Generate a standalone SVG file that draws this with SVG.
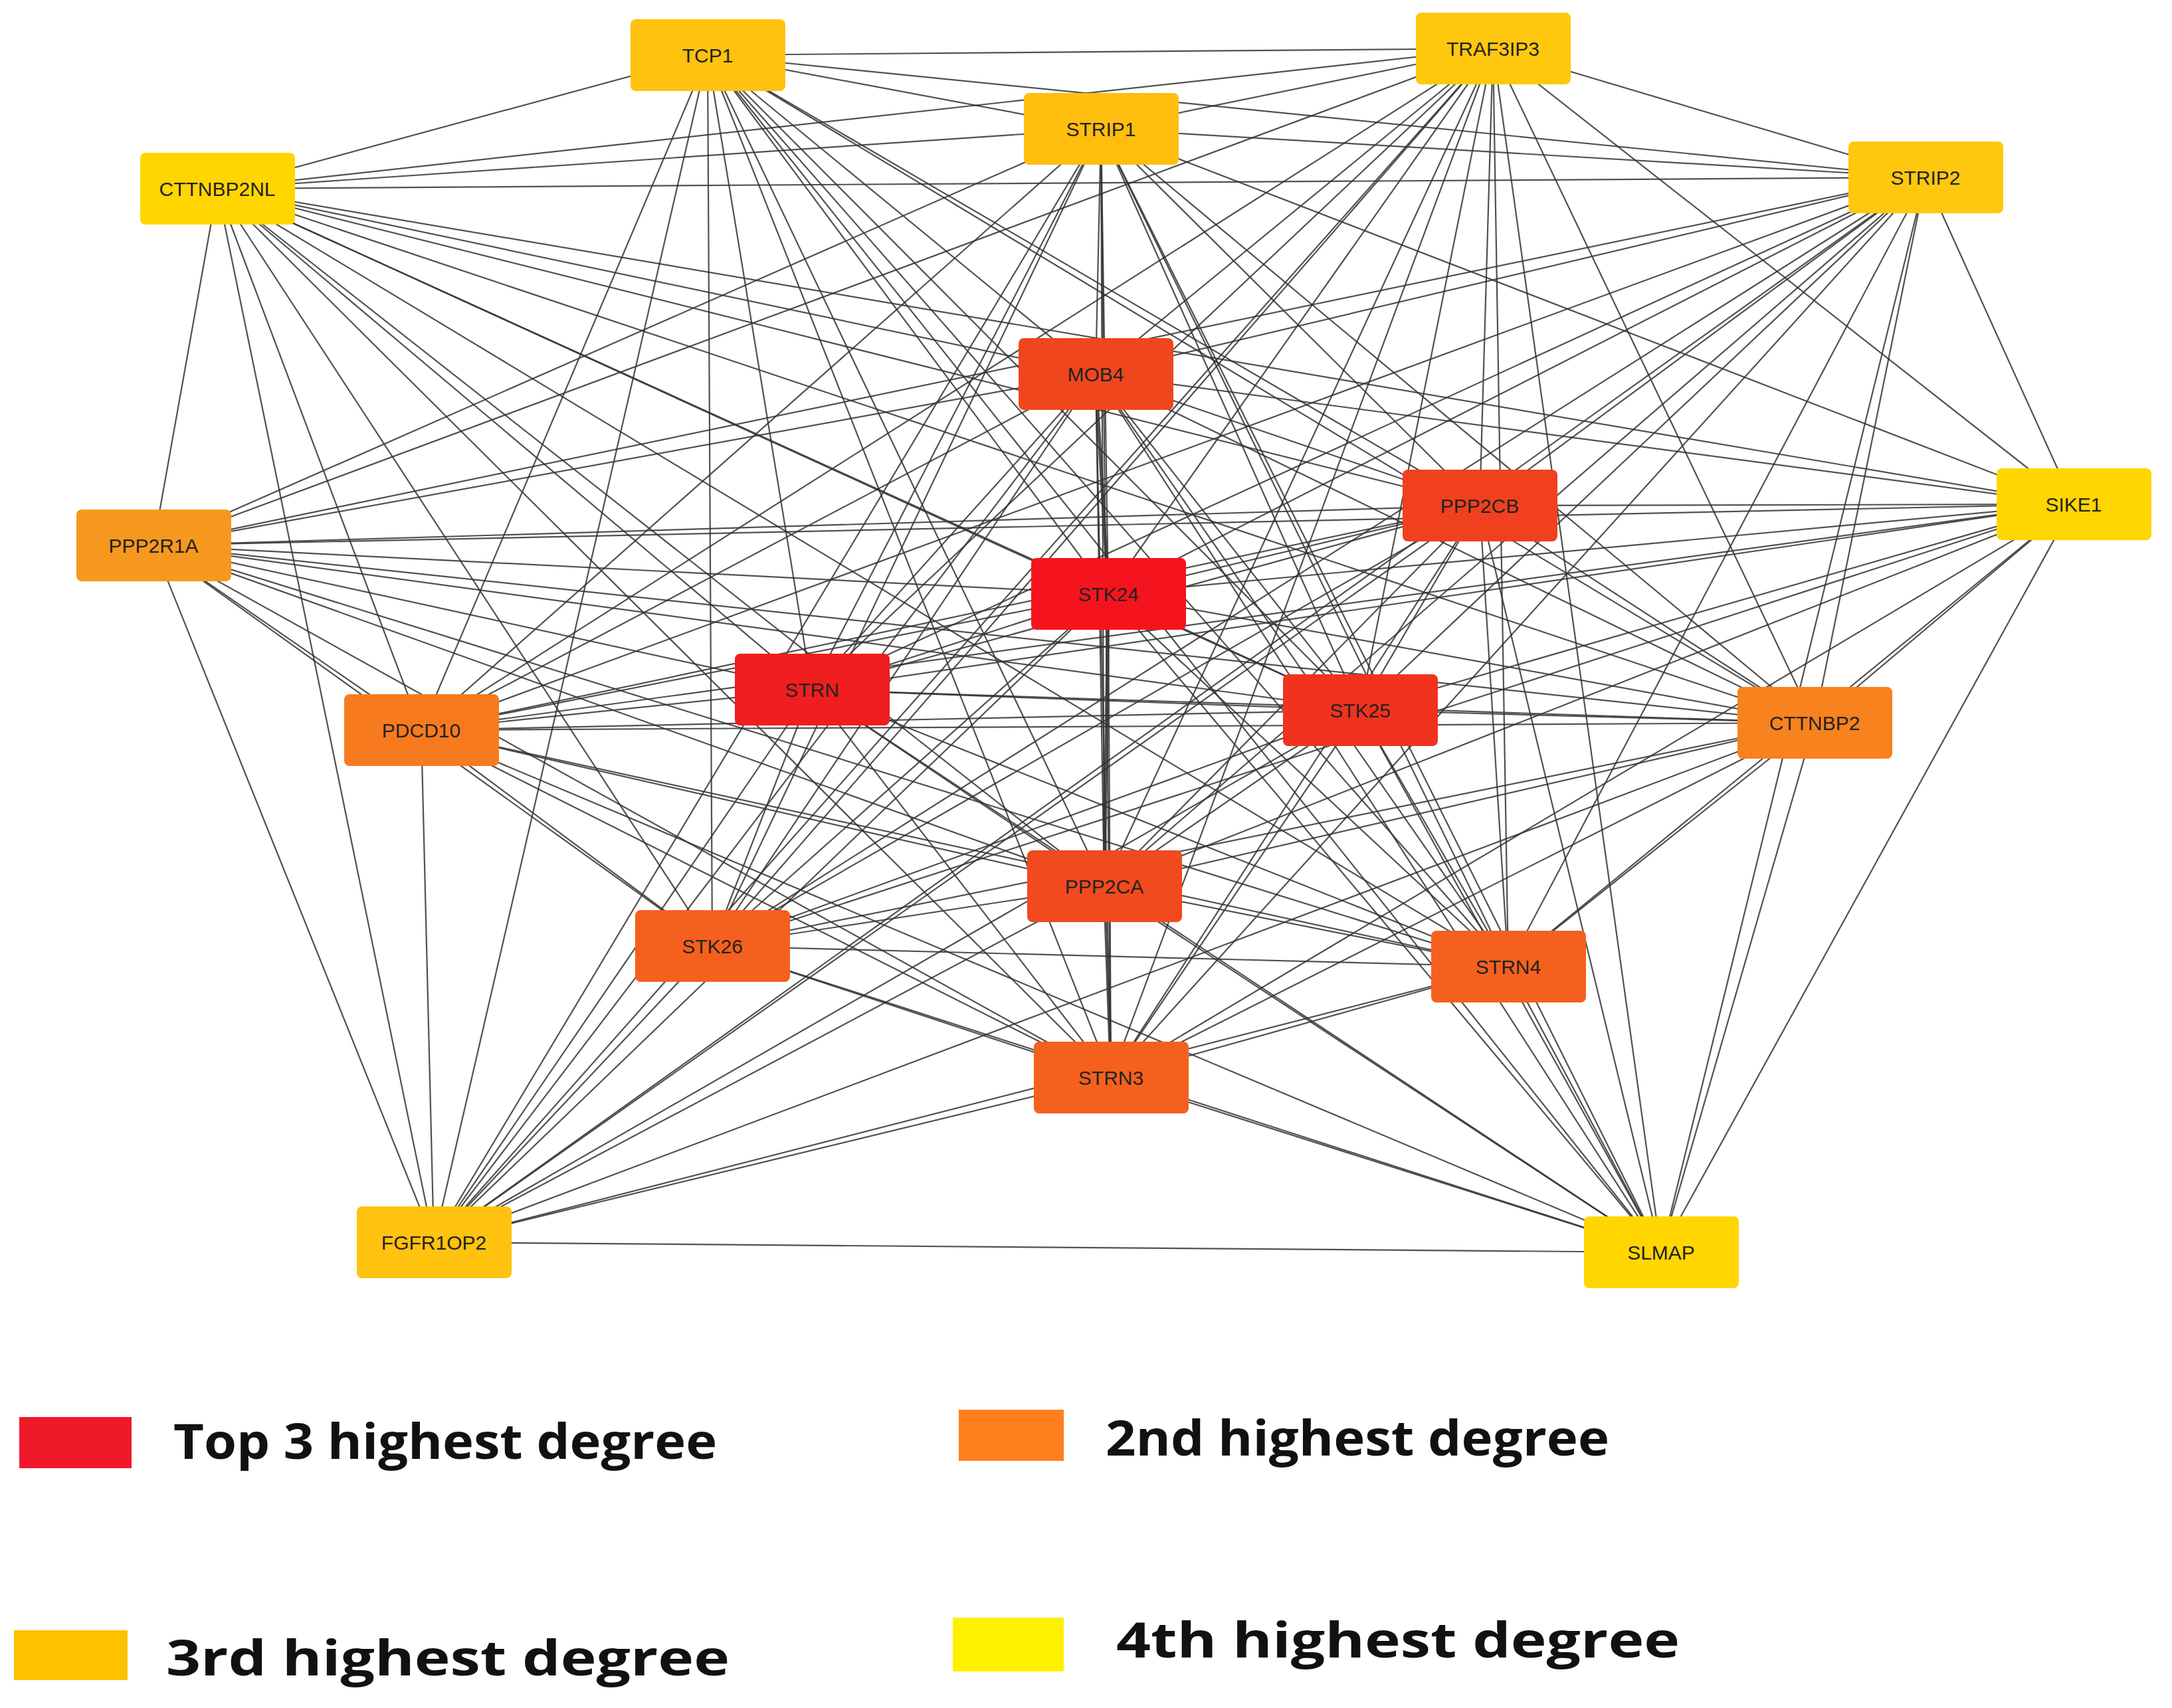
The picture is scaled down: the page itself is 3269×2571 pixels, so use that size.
<svg xmlns="http://www.w3.org/2000/svg" width="3269" height="2571" viewBox="0 0 3269 2571">
<style>
.e line{stroke:#333;stroke-width:2.2;opacity:0.85}
.n rect{stroke:none}
.n text{font-family:"Liberation Sans",Arial,sans-serif;font-size:30px;fill:#222;text-anchor:middle;dominant-baseline:central}
.lg text{font-family:"Open Sans","DejaVu Sans",sans-serif;font-weight:bold;font-size:74px;fill:#111}
</style>
<rect width="3269" height="2571" fill="#fff"/>
<g id="connectors" class="e">
<line x1="1065" y1="83" x2="2247" y2="73"/><line x1="1065" y1="83" x2="1657" y2="194"/><line x1="1065" y1="83" x2="327" y2="284"/><line x1="1065" y1="83" x2="2898" y2="267"/><line x1="1065" y1="83" x2="1649" y2="563"/><line x1="1065" y1="83" x2="2227" y2="761"/><line x1="1065" y1="83" x2="1668" y2="894"/><line x1="1065" y1="83" x2="1222" y2="1038"/><line x1="1065" y1="83" x2="2047" y2="1069"/><line x1="1065" y1="83" x2="634" y2="1099"/><line x1="1065" y1="83" x2="2731" y2="1088"/><line x1="1065" y1="83" x2="1662" y2="1334"/><line x1="1065" y1="83" x2="1072" y2="1424"/><line x1="1065" y1="83" x2="2270" y2="1455"/><line x1="1065" y1="83" x2="1672" y2="1622"/><line x1="1065" y1="83" x2="653" y2="1870"/><line x1="1065" y1="83" x2="2500" y2="1885"/>
<line x1="2247" y1="73" x2="1657" y2="194"/><line x1="2247" y1="73" x2="327" y2="284"/><line x1="2247" y1="73" x2="2898" y2="267"/><line x1="2247" y1="73" x2="1649" y2="563"/><line x1="2247" y1="73" x2="2227" y2="761"/><line x1="2247" y1="73" x2="3121" y2="759"/><line x1="2247" y1="73" x2="231" y2="821"/><line x1="2247" y1="73" x2="1668" y2="894"/><line x1="2247" y1="73" x2="1222" y2="1038"/><line x1="2247" y1="73" x2="2047" y2="1069"/><line x1="2247" y1="73" x2="634" y2="1099"/><line x1="2247" y1="73" x2="2731" y2="1088"/><line x1="2247" y1="73" x2="1662" y2="1334"/><line x1="2247" y1="73" x2="1072" y2="1424"/><line x1="2247" y1="73" x2="2270" y2="1455"/><line x1="2247" y1="73" x2="1672" y2="1622"/><line x1="2247" y1="73" x2="653" y2="1870"/><line x1="2247" y1="73" x2="2500" y2="1885"/>
<line x1="1657" y1="194" x2="327" y2="284"/><line x1="1657" y1="194" x2="2898" y2="267"/><line x1="1657" y1="194" x2="1649" y2="563"/><line x1="1657" y1="194" x2="2227" y2="761"/><line x1="1657" y1="194" x2="3121" y2="759"/><line x1="1657" y1="194" x2="231" y2="821"/><line x1="1657" y1="194" x2="1668" y2="894"/><line x1="1657" y1="194" x2="1222" y2="1038"/><line x1="1657" y1="194" x2="2047" y2="1069"/><line x1="1657" y1="194" x2="634" y2="1099"/><line x1="1657" y1="194" x2="2731" y2="1088"/><line x1="1657" y1="194" x2="1662" y2="1334"/><line x1="1657" y1="194" x2="1072" y2="1424"/><line x1="1657" y1="194" x2="2270" y2="1455"/><line x1="1657" y1="194" x2="1672" y2="1622"/><line x1="1657" y1="194" x2="653" y2="1870"/><line x1="1657" y1="194" x2="2500" y2="1885"/>
<line x1="327" y1="284" x2="2898" y2="267"/><line x1="327" y1="284" x2="1649" y2="563"/><line x1="327" y1="284" x2="2227" y2="761"/><line x1="327" y1="284" x2="3121" y2="759"/><line x1="327" y1="284" x2="231" y2="821"/><line x1="327" y1="284" x2="1668" y2="894"/><line x1="327" y1="284" x2="1222" y2="1038"/><line x1="327" y1="284" x2="2047" y2="1069"/><line x1="327" y1="284" x2="634" y2="1099"/><line x1="327" y1="284" x2="2731" y2="1088"/><line x1="327" y1="284" x2="1662" y2="1334"/><line x1="327" y1="284" x2="1072" y2="1424"/><line x1="327" y1="284" x2="2270" y2="1455"/><line x1="327" y1="284" x2="1672" y2="1622"/><line x1="327" y1="284" x2="653" y2="1870"/>
<line x1="2898" y1="267" x2="1649" y2="563"/><line x1="2898" y1="267" x2="2227" y2="761"/><line x1="2898" y1="267" x2="3121" y2="759"/><line x1="2898" y1="267" x2="231" y2="821"/><line x1="2898" y1="267" x2="1668" y2="894"/><line x1="2898" y1="267" x2="1222" y2="1038"/><line x1="2898" y1="267" x2="2047" y2="1069"/><line x1="2898" y1="267" x2="634" y2="1099"/><line x1="2898" y1="267" x2="2731" y2="1088"/><line x1="2898" y1="267" x2="1662" y2="1334"/><line x1="2898" y1="267" x2="1072" y2="1424"/><line x1="2898" y1="267" x2="2270" y2="1455"/><line x1="2898" y1="267" x2="1672" y2="1622"/><line x1="2898" y1="267" x2="653" y2="1870"/><line x1="2898" y1="267" x2="2500" y2="1885"/>
<line x1="1649" y1="563" x2="2227" y2="761"/><line x1="1649" y1="563" x2="3121" y2="759"/><line x1="1649" y1="563" x2="231" y2="821"/><line x1="1649" y1="563" x2="1668" y2="894" style="stroke-width:5"/><line x1="1649" y1="563" x2="1222" y2="1038"/><line x1="1649" y1="563" x2="2047" y2="1069"/><line x1="1649" y1="563" x2="634" y2="1099"/><line x1="1649" y1="563" x2="2731" y2="1088"/><line x1="1649" y1="563" x2="1662" y2="1334"/><line x1="1649" y1="563" x2="1072" y2="1424"/><line x1="1649" y1="563" x2="2270" y2="1455"/><line x1="1649" y1="563" x2="1672" y2="1622"/><line x1="1649" y1="563" x2="653" y2="1870"/><line x1="1649" y1="563" x2="2500" y2="1885"/>
<line x1="2227" y1="761" x2="3121" y2="759"/><line x1="2227" y1="761" x2="231" y2="821"/><line x1="2227" y1="761" x2="1668" y2="894"/><line x1="2227" y1="761" x2="1222" y2="1038"/><line x1="2227" y1="761" x2="2047" y2="1069"/><line x1="2227" y1="761" x2="634" y2="1099"/><line x1="2227" y1="761" x2="2731" y2="1088"/><line x1="2227" y1="761" x2="1662" y2="1334"/><line x1="2227" y1="761" x2="1072" y2="1424"/><line x1="2227" y1="761" x2="2270" y2="1455"/><line x1="2227" y1="761" x2="1672" y2="1622"/><line x1="2227" y1="761" x2="653" y2="1870"/><line x1="2227" y1="761" x2="2500" y2="1885"/>
<line x1="3121" y1="759" x2="231" y2="821"/><line x1="3121" y1="759" x2="1668" y2="894"/><line x1="3121" y1="759" x2="1222" y2="1038"/><line x1="3121" y1="759" x2="2047" y2="1069"/><line x1="3121" y1="759" x2="634" y2="1099"/><line x1="3121" y1="759" x2="2731" y2="1088"/><line x1="3121" y1="759" x2="1662" y2="1334"/><line x1="3121" y1="759" x2="1072" y2="1424"/><line x1="3121" y1="759" x2="2270" y2="1455"/><line x1="3121" y1="759" x2="1672" y2="1622"/><line x1="3121" y1="759" x2="2500" y2="1885"/>
<line x1="231" y1="821" x2="1668" y2="894"/><line x1="231" y1="821" x2="1222" y2="1038"/><line x1="231" y1="821" x2="2047" y2="1069"/><line x1="231" y1="821" x2="634" y2="1099"/><line x1="231" y1="821" x2="2731" y2="1088"/><line x1="231" y1="821" x2="1662" y2="1334"/><line x1="231" y1="821" x2="1072" y2="1424"/><line x1="231" y1="821" x2="2270" y2="1455"/><line x1="231" y1="821" x2="1672" y2="1622"/><line x1="231" y1="821" x2="653" y2="1870"/>
<line x1="1668" y1="894" x2="1222" y2="1038"/><line x1="1668" y1="894" x2="2047" y2="1069"/><line x1="1668" y1="894" x2="634" y2="1099"/><line x1="1668" y1="894" x2="2731" y2="1088"/><line x1="1668" y1="894" x2="1662" y2="1334" style="stroke-width:5"/><line x1="1668" y1="894" x2="1072" y2="1424"/><line x1="1668" y1="894" x2="2270" y2="1455"/><line x1="1668" y1="894" x2="1672" y2="1622"/><line x1="1668" y1="894" x2="653" y2="1870"/><line x1="1668" y1="894" x2="2500" y2="1885"/>
<line x1="1222" y1="1038" x2="2047" y2="1069"/><line x1="1222" y1="1038" x2="634" y2="1099"/><line x1="1222" y1="1038" x2="2731" y2="1088"/><line x1="1222" y1="1038" x2="1662" y2="1334"/><line x1="1222" y1="1038" x2="1072" y2="1424"/><line x1="1222" y1="1038" x2="2270" y2="1455"/><line x1="1222" y1="1038" x2="1672" y2="1622"/><line x1="1222" y1="1038" x2="653" y2="1870"/><line x1="1222" y1="1038" x2="2500" y2="1885"/>
<line x1="2047" y1="1069" x2="634" y2="1099"/><line x1="2047" y1="1069" x2="2731" y2="1088"/><line x1="2047" y1="1069" x2="1662" y2="1334"/><line x1="2047" y1="1069" x2="1072" y2="1424"/><line x1="2047" y1="1069" x2="2270" y2="1455"/><line x1="2047" y1="1069" x2="1672" y2="1622"/><line x1="2047" y1="1069" x2="653" y2="1870"/><line x1="2047" y1="1069" x2="2500" y2="1885"/>
<line x1="634" y1="1099" x2="2731" y2="1088"/><line x1="634" y1="1099" x2="1662" y2="1334"/><line x1="634" y1="1099" x2="1072" y2="1424"/><line x1="634" y1="1099" x2="2270" y2="1455"/><line x1="634" y1="1099" x2="1672" y2="1622"/><line x1="634" y1="1099" x2="653" y2="1870"/><line x1="634" y1="1099" x2="2500" y2="1885"/>
<line x1="2731" y1="1088" x2="1662" y2="1334"/><line x1="2731" y1="1088" x2="1072" y2="1424"/><line x1="2731" y1="1088" x2="2270" y2="1455"/><line x1="2731" y1="1088" x2="1672" y2="1622"/><line x1="2731" y1="1088" x2="653" y2="1870"/><line x1="2731" y1="1088" x2="2500" y2="1885"/>
<line x1="1662" y1="1334" x2="1072" y2="1424"/><line x1="1662" y1="1334" x2="2270" y2="1455"/><line x1="1662" y1="1334" x2="1672" y2="1622" style="stroke-width:4"/><line x1="1662" y1="1334" x2="653" y2="1870"/><line x1="1662" y1="1334" x2="2500" y2="1885"/>
<line x1="1072" y1="1424" x2="2270" y2="1455"/><line x1="1072" y1="1424" x2="1672" y2="1622"/><line x1="1072" y1="1424" x2="653" y2="1870"/><line x1="1072" y1="1424" x2="2500" y2="1885"/>
<line x1="2270" y1="1455" x2="1672" y2="1622"/><line x1="2270" y1="1455" x2="653" y2="1870"/><line x1="2270" y1="1455" x2="2500" y2="1885"/>
<line x1="1672" y1="1622" x2="653" y2="1870"/><line x1="1672" y1="1622" x2="2500" y2="1885"/>
<line x1="653" y1="1870" x2="2500" y2="1885"/>
</g>
<g id="n-TCP1" class="n"><rect x="949" y="29" width="233" height="108" rx="8" fill="#FFC20E"/><text x="1065" y="83">TCP1</text></g>
<g id="n-TRAF3IP3" class="n"><rect x="2131" y="19" width="233" height="108" rx="8" fill="#FFC80E"/><text x="2247" y="73">TRAF3IP3</text></g>
<g id="n-STRIP1" class="n"><rect x="1541" y="140" width="233" height="108" rx="8" fill="#FFBE0E"/><text x="1657" y="194">STRIP1</text></g>
<g id="n-CTTNBP2NL" class="n"><rect x="211" y="230" width="233" height="108" rx="8" fill="#FFD600"/><text x="327" y="284">CTTNBP2NL</text></g>
<g id="n-STRIP2" class="n"><rect x="2782" y="213" width="233" height="108" rx="8" fill="#FFC80E"/><text x="2898" y="267">STRIP2</text></g>
<g id="n-MOB4" class="n"><rect x="1533" y="509" width="233" height="108" rx="8" fill="#F0461E"/><text x="1649" y="563">MOB4</text></g>
<g id="n-PPP2CB" class="n"><rect x="2111" y="707" width="233" height="108" rx="8" fill="#F0401E"/><text x="2227" y="761">PPP2CB</text></g>
<g id="n-SIKE1" class="n"><rect x="3005" y="705" width="233" height="108" rx="8" fill="#FFD600"/><text x="3121" y="759">SIKE1</text></g>
<g id="n-PPP2R1A" class="n"><rect x="115" y="767" width="233" height="108" rx="8" fill="#F7981E"/><text x="231" y="821">PPP2R1A</text></g>
<g id="n-STK24" class="n"><rect x="1552" y="840" width="233" height="108" rx="8" fill="#F5141E"/><text x="1668" y="894">STK24</text></g>
<g id="n-STRN" class="n"><rect x="1106" y="984" width="233" height="108" rx="8" fill="#F01E1E"/><text x="1222" y="1038">STRN</text></g>
<g id="n-STK25" class="n"><rect x="1931" y="1015" width="233" height="108" rx="8" fill="#F0321E"/><text x="2047" y="1069">STK25</text></g>
<g id="n-PDCD10" class="n"><rect x="518" y="1045" width="233" height="108" rx="8" fill="#F77A1E"/><text x="634" y="1099">PDCD10</text></g>
<g id="n-CTTNBP2" class="n"><rect x="2615" y="1034" width="233" height="108" rx="8" fill="#F7821E"/><text x="2731" y="1088">CTTNBP2</text></g>
<g id="n-PPP2CA" class="n"><rect x="1546" y="1280" width="233" height="108" rx="8" fill="#F04A1E"/><text x="1662" y="1334">PPP2CA</text></g>
<g id="n-STK26" class="n"><rect x="956" y="1370" width="233" height="108" rx="8" fill="#F5601E"/><text x="1072" y="1424">STK26</text></g>
<g id="n-STRN4" class="n"><rect x="2154" y="1401" width="233" height="108" rx="8" fill="#F5601E"/><text x="2270" y="1455">STRN4</text></g>
<g id="n-STRN3" class="n"><rect x="1556" y="1568" width="233" height="108" rx="8" fill="#F5601E"/><text x="1672" y="1622">STRN3</text></g>
<g id="n-FGFR1OP2" class="n"><rect x="537" y="1816" width="233" height="108" rx="8" fill="#FFC20E"/><text x="653" y="1870">FGFR1OP2</text></g>
<g id="n-SLMAP" class="n"><rect x="2384" y="1831" width="233" height="108" rx="8" fill="#FFD600"/><text x="2500" y="1885">SLMAP</text></g>
<g id="legend" class="lg">
<rect x="29" y="2133" width="169" height="77" fill="#F0192A"/><text x="261" y="2196" textLength="818" lengthAdjust="spacingAndGlyphs">Top 3 highest degree</text>
<rect x="1443" y="2122" width="158" height="77" fill="#FF7F1E"/><text x="1664" y="2191" textLength="758" lengthAdjust="spacingAndGlyphs">2nd highest degree</text>
<rect x="21" y="2454" width="171" height="75" fill="#FFC000"/><text x="250" y="2522" textLength="848" lengthAdjust="spacingAndGlyphs">3rd highest degree</text>
<rect x="1434" y="2435" width="167" height="81" fill="#FFF000"/><text x="1680" y="2495" textLength="848" lengthAdjust="spacingAndGlyphs">4th highest degree</text>
</g>
</svg>
